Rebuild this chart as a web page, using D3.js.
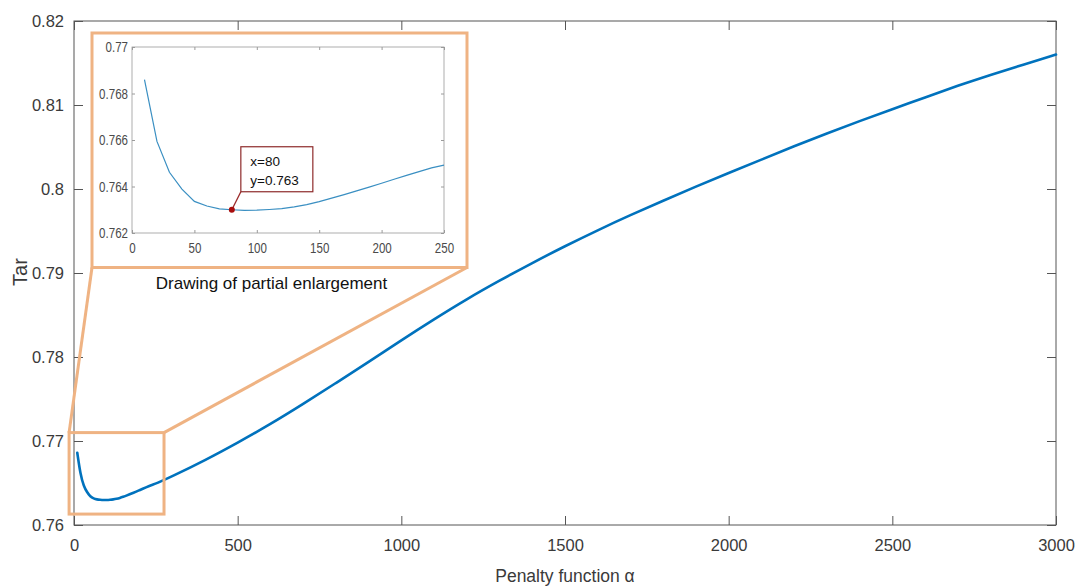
<!DOCTYPE html>
<html>
<head>
<meta charset="utf-8">
<script src="https://cdn.jsdelivr.net/npm/d3@7/dist/d3.min.js"></script>
<style>
  html, body { margin: 0; padding: 0; background: #fff; }
  svg { display: block; font-family: "Liberation Sans", Arial, sans-serif; }
</style>
</head>
<body>
<svg id="chart" width="1079" height="588"></svg>
<script>
// ---------------- data ----------------
const alpha = [10,20,30,40,50,60,70,80,90,100,110,120,130,140,150,160,170,180,190,200,210,220,230,240,250,
               300,400,500,600,700,800,900,1000,1100,1200,1300,1400,1500,1600,1700,1800,1900,2000,
               2100,2200,2300,2400,2500,2600,2700,2800,2900,3000];
const tar = [0.7686,0.76594,0.76461,0.76389,0.76336,0.76316,0.76304,0.76300,0.76297,0.76298,
             0.76301,0.76305,0.76312,0.76322,0.76335,0.76350,0.76365,0.76381,0.76397,0.76414,
             0.76431,0.76448,0.76464,0.76480,0.76492,
             0.7658,0.7677,0.7698,0.7720,0.7744,0.7769,0.7794,0.7820,0.7845,0.7869,0.7891,0.7912,
             0.7932,0.7951,0.7969,0.7986,0.8003,0.8019,0.8035,0.8051,0.8066,0.8081,0.8095,0.8109,
             0.8123,0.8136,0.8148,0.8160];

const xTicks = [0,500,1000,1500,2000,2500,3000];
const xTickLabels = ["0","500","1000","1500","2000","2500","3000"];
const yTicks = [0.76,0.77,0.78,0.79,0.80,0.81,0.82];
const yTickLabels = ["0.76","0.77","0.78","0.79","0.8","0.81","0.82"];

const insetXTicks = [0,50,100,150,200,250];
const insetXTickLabels = ["0","50","100","150","200","250"];
const insetYTicks = [0.762,0.764,0.766,0.768,0.770];
const insetYTickLabels = ["0.762","0.764","0.766","0.768","0.77"];

const zoomAlpha = [-15, 275];       // zoomed region (data units)
const zoomTar = [0.7613, 0.7710];

const markAlpha = [80];
const markTar = [0.763];
const markLabels = ["x=80", "y=0.763"];

const xLabel = "Penalty function \u03b1";
const yLabel = "Tar";
const insetTitle = "Drawing of partial enlargement";

// ---------------- layout ----------------
const svg = d3.select("#chart");
const axisColor = "#555";
const textColor = "#3a3a3a";
const orange = "#EFB383";
const blue = "#0072BD";

const x = d3.scaleLinear().domain([0,3000]).range([74,1056]);
const y = d3.scaleLinear().domain([0.76,0.82]).range([525,21]);

const pts = alpha.map((a,i)=>({a, t: tar[i]}));

// main frame
svg.append("rect")
  .attr("x", x(0)).attr("y", y(0.82))
  .attr("width", x(3000)-x(0)).attr("height", y(0.76)-y(0.82))
  .attr("fill", "none").attr("stroke", axisColor).attr("stroke-width", 1);

function styleAxis(g, fs) {
  g.select(".domain").remove();
  g.selectAll(".tick line").attr("stroke", axisColor);
  g.selectAll(".tick text").attr("fill", textColor).style("font-size", fs + "px");
}

const tickLen = 9;
svg.append("g").attr("transform", `translate(0,${y(0.76)})`)
  .call(d3.axisBottom(x).tickValues(xTicks).tickSize(-tickLen).tickPadding(14)
        .tickFormat((d,i)=>xTickLabels[i]))
  .call(g=>styleAxis(g,16.5));
svg.append("g").attr("transform", `translate(0,${y(0.82)})`)
  .call(d3.axisTop(x).tickValues(xTicks).tickSize(-tickLen).tickFormat(""))
  .call(g=>styleAxis(g,16.5));
svg.append("g").attr("transform", `translate(${x(0)},0)`)
  .call(d3.axisLeft(y).tickValues(yTicks).tickSize(-tickLen).tickPadding(10)
        .tickFormat((d,i)=>yTickLabels[i]))
  .call(g=>styleAxis(g,16.5));
svg.append("g").attr("transform", `translate(${x(3000)},0)`)
  .call(d3.axisRight(y).tickValues(yTicks).tickSize(-tickLen).tickFormat(""))
  .call(g=>styleAxis(g,16.5));

// axis titles
svg.append("text").attr("x", (x(0)+x(3000))/2).attr("y", 582)
  .attr("text-anchor","middle").attr("fill", textColor).style("font-size","17.5px")
  .text(xLabel);
svg.append("text").attr("transform","translate(26.5,272) rotate(-90)")
  .attr("text-anchor","middle").attr("fill", textColor).style("font-size","20px")
  .text(yLabel);

// main line
svg.append("path").datum(pts)
  .attr("fill","none").attr("stroke", blue).attr("stroke-width", 2.6)
  .attr("stroke-linejoin","round").attr("stroke-linecap","round")
  .attr("d", d3.line().x(d=>x(d.a)).y(d=>y(d.t)).curve(d3.curveBasis));

// zoom rectangle
const zx0 = x(zoomAlpha[0]), zx1 = x(zoomAlpha[1]);
const zy0 = y(zoomTar[1]), zy1 = y(zoomTar[0]);
svg.append("rect").attr("x", zx0).attr("y", zy0)
  .attr("width", zx1-zx0).attr("height", zy1-zy0)
  .attr("fill","none").attr("stroke", orange).attr("stroke-width", 3);

// inset box
const box = {x0: 92, y0: 33, x1: 467, y1: 267.5};
svg.append("line").attr("x1", zx0).attr("y1", zy0).attr("x2", box.x0).attr("y2", box.y1)
  .attr("stroke", orange).attr("stroke-width", 3);
svg.append("line").attr("x1", zx1).attr("y1", zy0).attr("x2", box.x1).attr("y2", box.y1)
  .attr("stroke", orange).attr("stroke-width", 3);
svg.append("rect").attr("x", box.x0).attr("y", box.y0)
  .attr("width", box.x1-box.x0).attr("height", box.y1-box.y0)
  .attr("fill","#fff").attr("stroke", orange).attr("stroke-width", 3);

// inset axes
const ix = d3.scaleLinear().domain([0,250]).range([132,444]);
const iy = d3.scaleLinear().domain([0.762,0.770]).range([233,47]);
const insetAxisColor = "#9a9a9a";
const inset = svg.append("g");
inset.append("rect").attr("x", ix(0)).attr("y", iy(0.77))
  .attr("width", ix(250)-ix(0)).attr("height", iy(0.762)-iy(0.77))
  .attr("fill","#fff").attr("stroke", insetAxisColor).attr("stroke-width", 0.8);

function styleInset(g) {
  g.select(".domain").remove();
  g.selectAll(".tick line").attr("stroke", insetAxisColor);
  g.selectAll(".tick text").attr("fill", "#4a4a4a").style("font-size","15px");
}
const iscale = 0.77;
inset.append("g").attr("transform", `translate(0,${iy(0.762)})`)
  .call(d3.axisBottom(ix).tickValues(insetXTicks).tickSize(-3).tickPadding(9)
        .tickFormat((d,i)=>insetXTickLabels[i]))
  .call(styleInset)
  .call(g=>g.selectAll(".tick text").attr("transform", `scale(${iscale},1)`));
inset.append("g").attr("transform", `translate(0,${iy(0.77)})`)
  .call(d3.axisTop(ix).tickValues(insetXTicks).tickSize(-3).tickFormat(""))
  .call(styleInset);
inset.append("g").attr("transform", `translate(${ix(0)},0)`)
  .call(d3.axisLeft(iy).tickValues(insetYTicks).tickSize(-3).tickPadding(0)
        .tickFormat((d,i)=>insetYTickLabels[i]))
  .call(styleInset)
  .call(g=>g.selectAll(".tick text").attr("x", -4/iscale).attr("transform", `scale(${iscale},1)`));
inset.append("g").attr("transform", `translate(${ix(250)},0)`)
  .call(d3.axisRight(iy).tickValues(insetYTicks).tickSize(-3).tickFormat(""))
  .call(styleInset);

const insetPts = pts.filter(d=>d.a<=250);
inset.append("path").datum(insetPts)
  .attr("fill","none").attr("stroke","#3a8fc2").attr("stroke-width",1.2)
  .attr("d", d3.line().x(d=>ix(d.a)).y(d=>iy(d.t)));

inset.append("text").attr("x", (box.x0+box.x1)/2 - 8).attr("y", 289)
  .attr("text-anchor","middle").attr("fill","#111").style("font-size","17px")
  .text(insetTitle);

// data tip
const mx = ix(markAlpha[0]), my = iy(markTar[0]);
const tip = {dx: 9, dy: -18, w: 72, h: 45};
const bx = mx + tip.dx, bb = my + tip.dy;
inset.append("line").attr("x1", mx).attr("y1", my).attr("x2", bx).attr("y2", bb)
  .attr("stroke","#9b2a2a").attr("stroke-width",1.3);
inset.append("rect").attr("x", bx).attr("y", bb - tip.h).attr("width", tip.w).attr("height", tip.h)
  .attr("fill","#fff").attr("stroke","#8e2b2b").attr("stroke-width",1.2);
inset.append("circle").attr("cx", mx).attr("cy", my).attr("r", 3).attr("fill","#a80d0d");
markLabels.forEach((s,i)=>{
  inset.append("text").attr("x", bx + 9.5).attr("y", bb - tip.h + 19 + i*19)
    .attr("fill","#111").style("font-size","13.5px").text(s);
});
</script>
</body>
</html>
